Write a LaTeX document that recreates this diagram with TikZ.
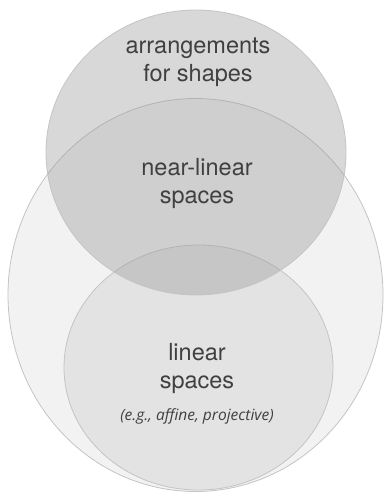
\documentclass[tikz,border=0pt]{standalone}
\usepackage{fontspec}
\setmainfont{TeX Gyre Heros}
\newfontfamily\notefont{Open Sans}
\usepackage{tikz}

\definecolor{outerfill}{HTML}{F2F2F2}
\definecolor{innerfill}{HTML}{E3E3E3}
\definecolor{topfill}{HTML}{999999}
\definecolor{rimgray}{HTML}{C4C4C4}
\definecolor{textgray}{HTML}{404040}

\begin{document}
\begin{tikzpicture}[
	x=1pt,y=-1pt, % work in pixels of the reference, y down
	rim/.style={draw=rimgray,line width=0.8pt},
	label/.style={text=textgray,align=center,font=\fontsize{23.5}{28}\selectfont},
	note/.style={text=textgray,font=\notefont\itshape\fontsize{15.5}{18}\selectfont}
]
\useasboundingbox (0,0) rectangle (384,492);

% the three sets
\fill[outerfill,rim] (195.5,295) ellipse [x radius=187.5,y radius=196.5];
\fill[innerfill,rim] (198.5,367.5) ellipse [x radius=134.5,y radius=122.5];
\fill[topfill,fill opacity=0.385,rim] (196,152.5) ellipse [x radius=150,y radius=142.5];

\node[label](AS) at (198,62) {arrangements\\for shapes};
\node[label](NL) at (197,183) {near-linear\\spaces};
\node[label](LS) at (197,368) {linear\\spaces};
\node[note](EG) at (197,416) {(e.g., affine, projective)};
\end{tikzpicture}
\end{document}
